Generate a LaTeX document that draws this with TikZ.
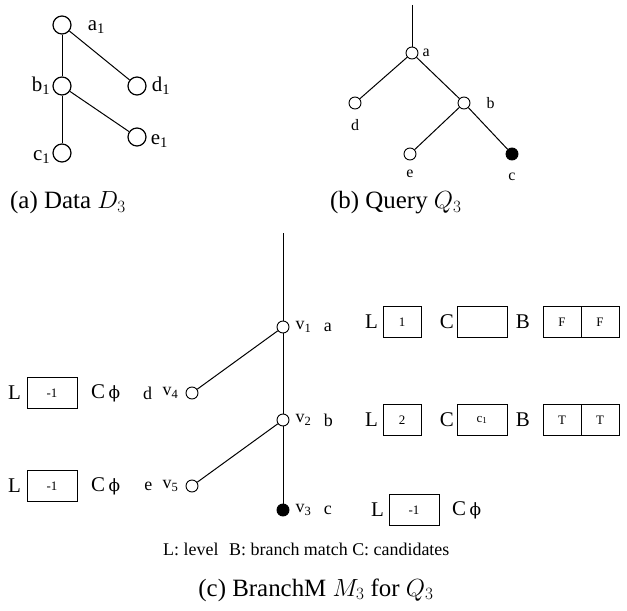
\documentclass[tikz,border=0pt]{standalone}
\usepackage{fontspec}
\setmainfont{Liberation Serif}
\newfontfamily\phifont{DejaVu Serif}
\usetikzlibrary{positioning}
\newcommand{\emptyC}{C\,{\phifont\fontsize{17}{17}\selectfont ϕ}}
\tikzset{
	dnode/.style={circle, draw=black, line width=1.2bp, minimum size=18bp, inner sep=0pt},
	qnode/.style={circle, draw=black, line width=0.9bp, minimum size=12bp, inner sep=0pt},
	qhit/.style ={qnode, fill=black},
	edge/.style ={line width=1bp},
	cell/.style ={rectangle, draw=black, line width=1bp, minimum width=38bp, minimum height=31bp, inner sep=0pt, outer sep=0pt, font=\fontsize{13}{13}\selectfont},
	wcell/.style={cell, minimum width=50bp},
	dlab/.style ={inner sep=0pt, font=\fontsize{21}{21}\selectfont},
	qlab/.style ={inner sep=0pt, font=\fontsize{16}{16}\selectfont},
	clab/.style ={inner sep=0pt, font=\fontsize{18}{18}\selectfont},
	flab/.style ={inner sep=0pt, font=\fontsize{21}{21}\selectfont},
	capt/.style ={inner sep=0pt, font=\fontsize{25}{25}\selectfont},
}
\begin{document}
\begin{tikzpicture}[x=1bp, y=-1bp]
	\useasboundingbox (0,0) rectangle (627,611);
	% (a) data tree
	\node[dnode] (a1) at (62,25) {};
	\node[dnode] (b1) at (62,86) {};
	\node[dnode] (d1) at (137,86) {};
	\node[dnode] (c1) at (62,153) {};
	\node[dnode] (e1) at (137,137) {};
	\draw[edge] (a1) -- (b1);
	\draw[edge] (a1) -- (d1);
	\draw[edge] (b1) -- (c1);
	\draw[edge] (b1) -- (e1);
	\node[dlab, right=16bp of a1, yshift=-2bp] {a\textsubscript{1}};
	\node[dlab, left=2bp of b1] {b\textsubscript{1}};
	\node[dlab, right=5bp of d1] {d\textsubscript{1}};
	\node[dlab, left=2bp of c1, yshift=-4bp] {c\textsubscript{1}};
	\node[dlab, right=4bp of e1, yshift=-4bp] {e\textsubscript{1}};
	\node[capt, anchor=west] (capa) at (10,203) {(a) Data $D_3$};
	% (b) query tree
	\coordinate (qtop) at (412,5);
	\node[qnode] (qa) at (412,53) {};
	\node[qnode] (qd) at (355,103) {};
	\node[qnode] (qb) at (464,103) {};
	\node[qnode] (qe) at (410,154) {};
	\node[qhit] (qc) at (512,154) {};
	\draw[edge] (qtop) -- (qa);
	\draw[edge] (qa) -- (qd);
	\draw[edge] (qa) -- (qb);
	\draw[edge] (qb) -- (qe);
	\draw[edge] (qb) -- (qc);
	\node[qlab, right=4bp of qa] {a};
	\node[qlab, below=10bp of qd] {d};
	\node[qlab, right=16bp of qb] {b};
	\node[qlab, below=9bp of qe] {e};
	\node[qlab, below=12bp of qc] {c};
	\node[capt, anchor=west] (capb) at (330,203) {(b) Query $Q_3$};
	% (c) BranchM
	\coordinate (mtop) at (283,233);
	\node[qnode] (v1) at (283,327) {};
	\node[qnode] (v2) at (283,420) {};
	\node[qhit] (v3) at (283,510) {};
	\node[qnode] (v4) at (192,393) {};
	\node[qnode] (v5) at (192,486) {};
	\draw[edge] (mtop) -- (v1);
	\draw[edge] (v1) -- (v2);
	\draw[edge] (v2) -- (v3);
	\draw[edge] (v1) -- (v4);
	\draw[edge] (v2) -- (v5);
	\node[clab, right=6bp of v1] (v1n) {v\textsubscript{1}};
	\node[clab, right=12bp of v1n] {a};
	\node[clab, right=6bp of v2] (v2n) {v\textsubscript{2}};
	\node[clab, right=12bp of v2n] {b};
	\node[clab, right=6bp of v3] (v3n) {v\textsubscript{3}};
	\node[clab, right=12bp of v3n] {c};
	\node[clab, left=7bp of v4] (v4n) {v\textsubscript{4}};
	\node[clab, left=10bp of v4n] {d};
	\node[clab, left=7bp of v5] (v5n) {v\textsubscript{5}};
	\node[clab, left=10bp of v5n] {e};
	% v1 row
	\node[cell] (lv1) at (402,322) {1};
	\node[wcell] (cv1) at (482,322) {};
	\node[cell] (bv1a) at (562,322) {F};
	\node[cell, right=0pt of bv1a] (bv1b) {F};
	\node[flab, left=5bp of lv1] {L};
	\node[flab, left=3bp of cv1] {C};
	\node[flab, left=13bp of bv1a] {B};
	% v2 row
	\node[cell] (lv2) at (402,420) {2};
	\node[wcell] (cv2) at (482,420) {c\textsubscript{1}};
	\node[cell] (bv2a) at (562,420) {T};
	\node[cell, right=0pt of bv2a] (bv2b) {T};
	\node[flab, left=5bp of lv2] {L};
	\node[flab, left=3bp of cv2] {C};
	\node[flab, left=13bp of bv2a] {B};
	% v3, v4, v5 rows
	\node[wcell] (lv3) at (414,510) {-1};
	\node[flab, left=5bp of lv3] {L};
	\node[flab, right=13bp of lv3] {\emptyC};
	\node[wcell] (lv4) at (52,393) {-1};
	\node[flab, left=6bp of lv4] {L};
	\node[flab, right=14bp of lv4] {\emptyC};
	\node[wcell] (lv5) at (52,486) {-1};
	\node[flab, left=6bp of lv5] {L};
	\node[flab, right=14bp of lv5] {\emptyC};
	% legend and caption
	\node[inner sep=0pt, anchor=west, font=\fontsize{18}{18}\selectfont] (legend) at (163,549) {L: level\hspace{0.6em}B: branch match\hspace{0.25em}C: candidates};
	\node[capt] (capc) at (316,590) {(c) BranchM $M_3$ for $Q_3$};
\end{tikzpicture}
\end{document}
